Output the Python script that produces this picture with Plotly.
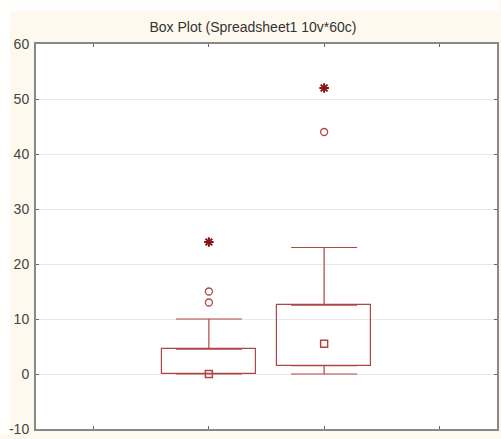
import plotly.graph_objects as go

# ---- data ----
slots = [1, 2]                 # positions of the two variables on a 4-slot axis
q1 = [0.0, 1.5]
q3 = [4.5, 12.5]
median = [0.0, 5.5]
whisker_low = [0.0, 0.0]
whisker_high = [10.0, 23.0]
outlier_x = [1, 1, 2]
outlier_y = [13.0, 15.0, 44.0]
extreme_x = [1, 2]
extreme_y = [24.0, 52.0]
tick_slots = [0, 1, 2, 3]
y_ticks = [-10, 0, 10, 20, 30, 40, 50, 60]
y_tick_labels = [str(v) for v in y_ticks]

RED = "#B04545"
DARK = "#8B1515"
CREAM = "#FEF9EE"

fig = go.Figure()

# box body (Q1..Q3) without a median line
fig.add_trace(go.Bar(
    x=slots, base=q1, y=[b - a for a, b in zip(q1, q3)], width=0.81,
    marker=dict(color="rgba(0,0,0,0)", line=dict(color=RED, width=1.2)),
    showlegend=False, hoverinfo="skip"))

# upper whiskers
fig.add_trace(go.Scatter(
    x=slots, y=q3, mode="markers",
    marker=dict(size=1, color="rgba(0,0,0,0)"),
    error_y=dict(type="data", symmetric=False,
                 array=[h - t for h, t in zip(whisker_high, q3)],
                 arrayminus=[0, 0], color=RED, thickness=1.2, width=33),
    showlegend=False, hoverinfo="skip"))

# lower whiskers
fig.add_trace(go.Scatter(
    x=slots, y=q1, mode="markers",
    marker=dict(size=1, color="rgba(0,0,0,0)"),
    error_y=dict(type="data", symmetric=False,
                 array=[0, 0],
                 arrayminus=[b - l for b, l in zip(q1, whisker_low)],
                 color=RED, thickness=1.2, width=33),
    showlegend=False, hoverinfo="skip"))

# median squares
fig.add_trace(go.Scatter(
    x=slots, y=median, mode="markers",
    marker=dict(symbol="square-open", size=7, color=RED, line=dict(width=1.5, color=RED)),
    showlegend=False))

# outliers
fig.add_trace(go.Scatter(
    x=outlier_x, y=outlier_y, mode="markers",
    marker=dict(symbol="circle-open", size=7, color=RED, line=dict(width=1.3, color=RED)),
    showlegend=False))

# extremes
fig.add_trace(go.Scatter(
    x=extreme_x, y=extreme_y, mode="markers",
    marker=dict(symbol="asterisk-open", size=8, color=DARK, line=dict(width=2, color=DARK)),
    showlegend=False))

W, H = 501, 439
L, R, T, B = 36, 2, 44, 6
pw, ph = W - L - R, H - T - B

def px_x(px):
    return (px - L) / pw

def px_y(py):
    return (H - B - py) / ph

fig.update_layout(
    width=W, height=H,
    margin=dict(l=L, r=R, t=T, b=B),
    paper_bgcolor=CREAM,
    plot_bgcolor="white",
    title=dict(text="Box Plot (Spreadsheet1 10v*60c)", x=253 / W, xanchor="center",
               y=1 - 27 / H, yanchor="middle",
               font=dict(family="Liberation Sans, Arial", size=14, color="#333333")),
    shapes=[
        dict(type="rect", xref="paper", yref="paper", layer="below",
             x0=px_x(0), x1=px_x(W), y0=px_y(11), y1=px_y(0),
             fillcolor="white", line=dict(width=0)),
        dict(type="rect", xref="paper", yref="paper", layer="below",
             x0=px_x(0), x1=px_x(10), y0=px_y(H), y1=px_y(0),
             fillcolor="white", line=dict(width=0)),
    ],
    xaxis=dict(range=[-0.5, 3.5], tickvals=tick_slots, showticklabels=False,
               ticks="inside", ticklen=3, tickcolor="#666", tickwidth=1,
               showgrid=False, zeroline=False,
               showline=True, linecolor="#888", linewidth=2, mirror="ticks"),
    yaxis=dict(range=[-10, 60], tickvals=y_ticks, ticktext=y_tick_labels,
               ticks="inside", ticklen=3, tickcolor="#666", tickwidth=1,
               showgrid=True, gridcolor="#E8E8E8", gridwidth=1, zeroline=False,
               showline=True, linecolor="#888", linewidth=2, mirror="ticks",
               ticklabeloverflow="allow", ticklabelstandoff=2,
               tickfont=dict(family="Liberation Sans, Arial", size=14, color="#444444")),
    bargap=0,
)

fig.write_html("out.html")
